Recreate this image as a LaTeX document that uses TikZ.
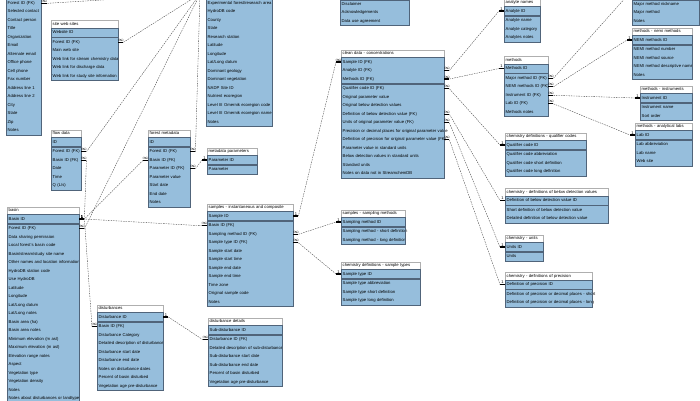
\documentclass[tikz,border=0pt]{standalone}
\usepackage{fontspec}
\setmainfont{Liberation Sans}
\usepackage{tikz}
\usetikzlibrary{calc}
\definecolor{tblblue}{RGB}{150,190,220}
\definecolor{tblline}{RGB}{80,100,122}
\definecolor{headgray}{RGB}{175,175,175}
\newcommand{\erfont}{\fontsize{4.2}{5}\selectfont}
\tikzstyle{tblrow} = [fill=tblblue, anchor=west, inner xsep=1.5pt, inner ysep=0pt, minimum height=8.5pt, align=left, text height=3pt, text depth=1pt, font=\erfont]
\tikzstyle{tblhead} = [draw=headgray, line width=0.4pt, fill=white, anchor=south west, inner xsep=1.5pt, inner ysep=0pt, minimum height=7.5pt, align=left, text height=3pt, text depth=1pt, font=\erfont]
\tikzstyle{tblframe} = [draw=tblline, line width=0.6pt]
\tikzstyle{keysep} = [draw=tblline, line width=1.3pt]
\tikzstyle{stub} = [black, line width=1.1pt]
\tikzstyle{relline} = [black!75, line width=0.35pt, dash pattern=on 1.5pt off 1pt]
\tikzstyle{cardlab} = [above, inner sep=0.3pt, font=\fontsize{4}{4}\selectfont]

% table: name, left x, y of first row, width, key rows, header, rows
\newcommand{\ertable}[7]{%
  \pgfmathsetmacro{\ertw}{#4-3}
  \if\relax\detokenize{#6}\relax\else
    \node[tblhead, text width=\ertw pt] (#1) at (#2,{#3-4.25}) {#6};
  \fi
  \foreach \ertext [count=\i] in {#7} {
    \pgfmathsetmacro{\rowy}{#3+(\i-1)*8.5+(\i>#5)*1.3}
    \node[tblrow, text width=\ertw pt] (#1-\i) at (#2,\rowy) {\mbox{\ertext}};
    \xdef\ernrows{\i}
  }
  \ifnum#5>0
    \draw[keysep] ([yshift=-0.65pt]#1-#5.south west) -- ([yshift=-0.65pt]#1-#5.south east);
  \fi
  \draw[tblframe] (#1-1.north west) rectangle (#1-\ernrows.south east);
}
% link: [pk label] fk anchor, fk stub, pk anchor, pk stub
\newcommand{\erlink}[5][1]{%
  \draw[stub] (#2) -- node[cardlab] {$\infty$} ++(#3,0) coordinate (erfk);
  \draw[stub] (#4) -- node[cardlab] {#1} ++(#5,0) coordinate (erpk);
  \draw[relline] (erfk) -- (erpk);
}

\begin{document}
\begin{tikzpicture}[x=1pt, y=-1pt]
    \useasboundingbox (0,0) rectangle (700,400);
    \clip (0,0) rectangle (700,400);
    \fill[white] (0,0) rectangle (700,400);

    % left column
    \ertable{contacts}{6}{2}{35}{0}{}{Forest ID (FK),Selected contact,Contact person,Title,Organization,Email,Alternate email,Office phone,Cell phone,Fax number,Address line 1,Address line 2,City,State,Zip,Notes}
    \ertable{webs}{51}{32.5}{67}{1}{site web sites}{Website ID,Forest ID (FK),Main web site,Web link for stream chemistry data,Web link for discharge data,Web link for study site information}
    \ertable{flow}{51}{142}{30}{1}{flow data}{ID,Forest ID (FK),Basin ID (FK),Date,Time,Q (L/s)}
    \ertable{basin}{7}{219}{72}{1}{basin}{Basin ID,Forest ID (FK),Data sharing permission,Local forest's basin code,Basin/stream/study site name,Other names and location information,HydroDB station code,Use HydroDB,Latitude,Longitude,Lat/Long datum,Lat/Long notes,Basin area (ha),Basin area notes,Minimum elevation (m asl),Maximum elevation (m asl),Elevation range notes,Aspect,Vegetation type,Vegetation density,Notes,Notes about disturbances or landtype}
    \ertable{dist}{97}{317}{66}{1}{disturbances}{Disturbance ID,Basin ID (FK),Disturbance Category,Detailed description of disturbance,Disturbance start date,Disturbance end date,Notes on disturbance dates,Percent of basin disturbed,Vegetation age pre-disturbance}

    % middle
    \ertable{forest}{206}{2}{66}{0}{}{Experimental forest/research area,HydroDB code,County,State,Research station,Latitude,Longitude,Lat/Long datum,Dominant geology,Dominant vegetation,NADP Site ID,Nutrient ecoregion,Level III Omernik ecoregion code,Level III Omernik ecoregion name,Notes}
    \ertable{fmeta}{148}{142}{42}{1}{forest metadata}{ID,Forest ID (FK),Basin ID (FK),Parameter ID (FK),Parameter value,Start date,End date,Notes}
    \ertable{mpar}{207}{160}{50}{1}{metadata parameters}{Parameter ID,Parameter}
    \ertable{samples}{207}{216}{86}{1}{samples - instantaneous and composite}{Sample ID,Basin ID (FK),Sampling method ID (FK),Sample type ID (FK),Sample start date,Sample start time,Sample end date,Sample end time,Time zone,Original sample code,Notes}
    \ertable{ddet}{208}{330}{74}{1}{disturbance details}{Sub-disturbance ID,Disturbance ID (FK),Detailed description of sub-disturbance,Sub-disturbance start date,Sub-disturbance end date,Percent of basin disturbed,Vegetation age pre-disturbance}
    \ertable{policy}{340}{3}{69}{0}{}{Disclaimer,Acknowledgements,Data use agreement}
    \ertable{clean}{341}{62}{103}{3}{clean data - concentrations}{Sample ID (FK),Analyte ID (FK),Methods ID (FK),Qualifier code ID (FK),Original parameter value,Original below detection values,Definition of below detection value (FK),Units of original parameter value (FK),Precision or decimal places for original parameter value,Definition of precision for original parameter value (FK),Parameter value in standard units,Below detection values in standard units,Standard units,Notes on data not in StreamchemDB}
    \ertable{smeth}{341}{222}{64}{1}{samples - sampling methods}{Sampling method ID,Sampling method - short definition,Sampling method - long definition}
    \ertable{stype}{341}{274}{79}{1}{chemistry definitions - sample types}{Sample type ID,Sample type abbreviation,Sample type short definition,Sample type long definition}

    % right column
    \ertable{analyte}{504}{11}{36}{1}{analyte names}{Analyte ID,Analyte name,Analyte category,Analytes notes}
    \ertable{methods}{504}{68.5}{44}{1}{methods}{Methods ID,Major method ID (FK),NEMI methods ID (FK),Instrument ID (FK),Lab ID (FK),Methods notes}
    \ertable{major}{632}{3}{67}{0}{}{Major method nickname,Major method,Notes}
    \ertable{nemi}{632}{40}{60}{1}{methods - nemi methods}{NEMI methods ID,NEMI method number,NEMI method source,NEMI method descriptive name,Notes}
    \ertable{instr}{640}{98}{52}{1}{methods - instruments}{Instrument ID,Instrument name,Sort order}
    \ertable{labs}{635}{135}{57}{1}{methods - analytical labs}{Lab ID,Lab abbreviation,Lab name,Web site}
    \ertable{qual}{505}{145}{81}{1}{chemistry definitions - qualifier codes}{Qualifier code ID,Qualifier code abbreviation,Qualifier code short definition,Qualifier code long definition}
    \ertable{belowdl}{505}{200.5}{103}{1}{chemistry - definitions of below detection values}{Definition of below detection value ID,Short definition of below detection value,Detailed definition of below detection value}
    \ertable{units}{505}{247}{38}{1}{chemistry - units}{Units ID,Units}
    \ertable{prec}{505}{284.5}{87}{1}{chemistry - definitions of precision}{Definition of precision ID,Definition of precision or decimal places - short,Definition of precision or decimal places - long}

    % key rows of the tables cut off at the top
    \coordinate (forest-pk) at (206,-6);
    \coordinate (major-pk) at (632,-4);

    % relationships
    \erlink[]{contacts-1.east}{6}{forest-pk}{-6}
    \erlink[]{webs-2.east}{5}{forest-pk}{-6}
    \erlink[]{flow-2.east}{5}{forest-pk}{-6}
    \erlink[]{basin-2.east}{5}{forest-pk}{-6}
    \erlink[]{fmeta-2.east}{5}{forest-pk}{-6}
    \erlink{flow-3.east}{5}{basin-1.east}{5}
    \erlink{fmeta-3.west}{-5}{basin-1.east}{5}
    \erlink{samples-2.west}{-5}{basin-1.east}{5}
    \erlink{dist-2.west}{-5}{basin-1.east}{5}
    \erlink{ddet-2.west}{-5}{dist-1.east}{5}
    \erlink{fmeta-4.east}{5}{mpar-1.west}{-5}
    \erlink{clean-1.west}{-5}{samples-1.east}{5}
    \erlink{clean-2.east}{5}{analyte-1.west}{-5}
    \erlink{clean-3.east}{5}{methods-1.west}{-5}
    \erlink{clean-4.east}{5}{qual-1.west}{-5}
    \erlink{clean-7.east}{5}{belowdl-1.west}{-5}
    \erlink{clean-8.east}{5}{units-1.west}{-5}
    \erlink{clean-10.east}{5}{prec-1.west}{-5}
    \erlink[]{methods-2.east}{5}{major-pk}{-5}
    \erlink{methods-3.east}{5}{nemi-1.west}{-5}
    \erlink{methods-4.east}{5}{instr-1.west}{-5}
    \erlink{methods-5.east}{5}{labs-1.west}{-5}
    \erlink{samples-3.east}{5}{smeth-1.west}{-5}
    \erlink{samples-4.east}{5}{stype-1.west}{-5}
\end{tikzpicture}
\end{document}
